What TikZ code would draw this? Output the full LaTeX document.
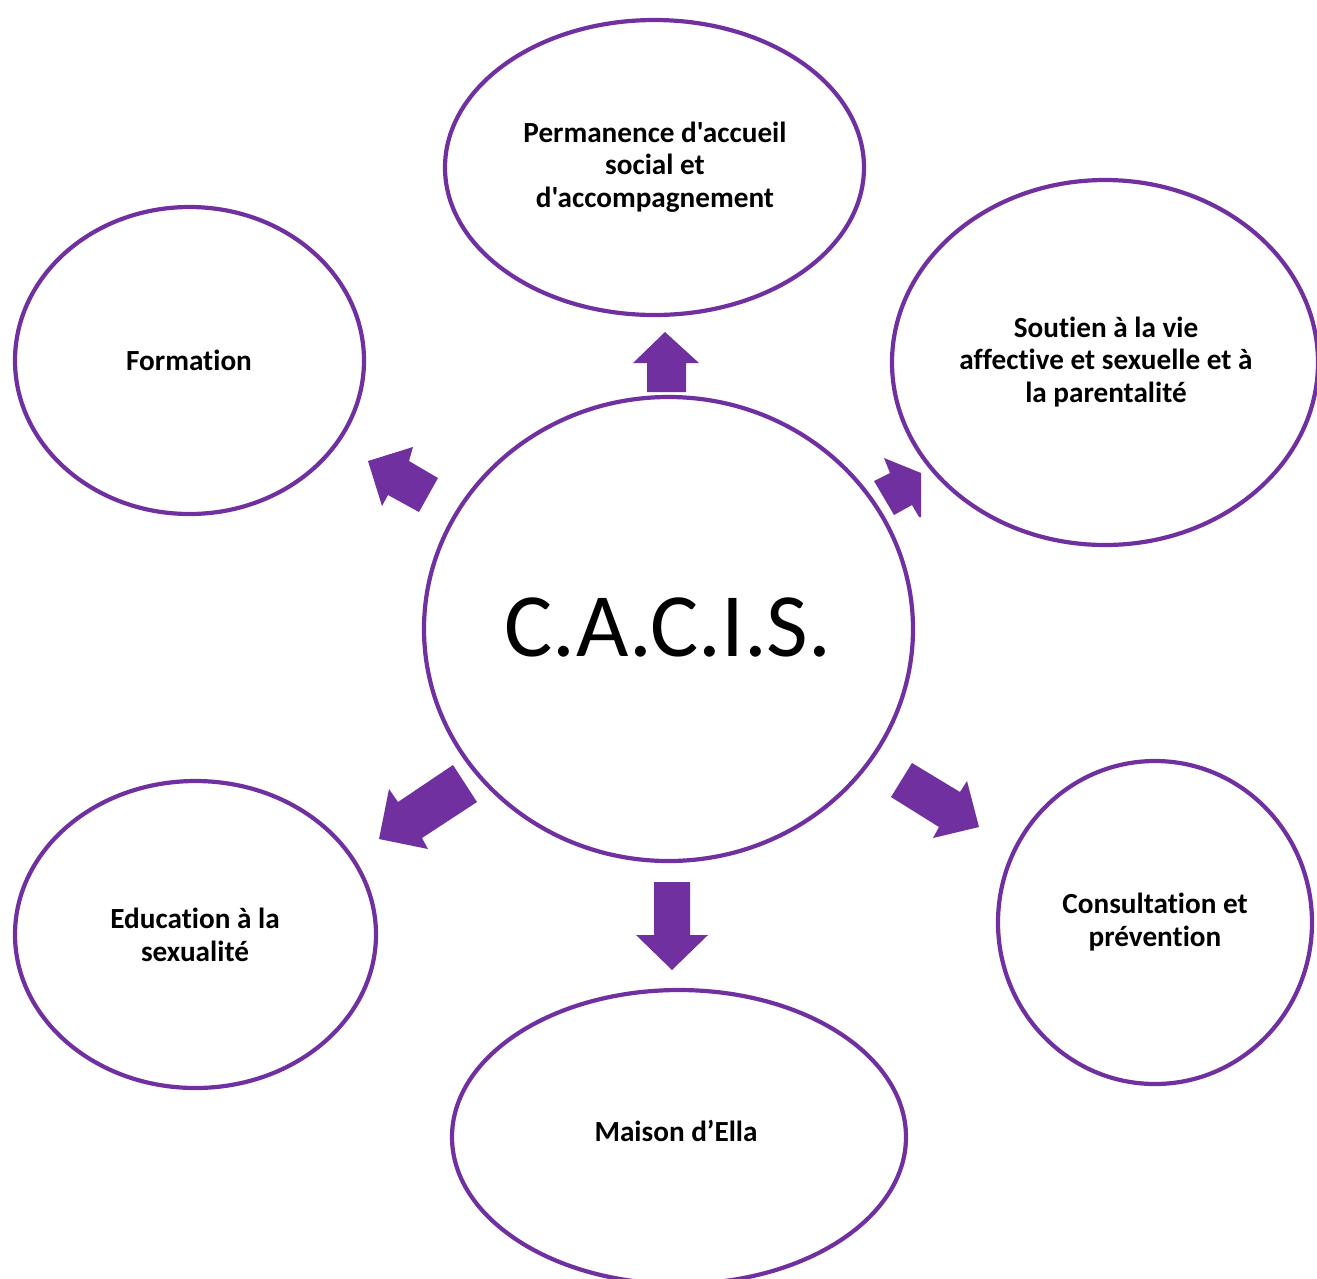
\documentclass[tikz,border=0pt]{standalone}
\usepackage{fontspec}
\setmainfont{Carlito}[Ligatures={TeXOff,NoCommon}]
\begin{document}
\begin{tikzpicture}[x=1pt,y=-1pt,
  ring/.style={draw=cacis,line width=4.2pt,fill=white},
  blockarrow/.style={fill=cacis,draw=none},
  lbl/.style={align=center,font=\fontsize{29.2}{32.5}\selectfont\bfseries,text=black}]
\definecolor{cacis}{HTML}{7030A0}
\useasboundingbox (0,0) rectangle (1317,1278);
\clip (0,0) rectangle (1317,1278);

% block arrows pointing from the centre to each activity
\fill[blockarrow] (647,392) -- (647,363) -- (633,363) -- (665,332) -- (699,363) -- (686,363) -- (686,392) -- cycle;
\fill[blockarrow] (654,882) -- (690,882) -- (690,935) -- (708,935) -- (672,970) -- (636,935) -- (654,935) -- cycle;
\fill[blockarrow] (438,478) -- (409,461) -- (413,447) -- (368,461) -- (382,506) -- (388,495) -- (419,512) -- cycle;
\fill[blockarrow] (874,481) -- (890,473) -- (884,458) -- (921,473) -- (921,517) -- (919,517) -- (912,505) -- (894,515) -- cycle;
\fill[blockarrow] (453,765) -- (398,802) -- (389,789) -- (379,839) -- (428,849) -- (422,838) -- (477,802) -- cycle;
\fill[blockarrow] (912,763) -- (960,792) -- (967,781) -- (979,827) -- (933,838) -- (939,827) -- (891,797) -- cycle;

% centre and surrounding activities
\draw[ring] (668.5,629) ellipse [x radius=244.5, y radius=232];
\node[font=\fontsize{90.5}{100}\selectfont,text=black] (centre) at (668,627) {C.A.C.I.S.};

\draw[ring] (654.5,167.5) ellipse [x radius=209.5, y radius=147.5];
\node[lbl] (perm) at (655,167) {Permanence d'accueil\\social et\\d'accompagnement};

\draw[ring] (189.5,360.5) ellipse [x radius=174.5, y radius=153.5];
\node[lbl] (form) at (189,360) {Formation};

\draw[ring] (1105,362.5) ellipse [x radius=213, y radius=182.5];
\node[lbl] (sout) at (1106,362) {Soutien à la vie\\affective et sexuelle et à\\la parentalité};

\draw[ring] (195.5,934.5) ellipse [x radius=180.5, y radius=153.5];
\node[lbl] (educ) at (195,935) {Education à la\\sexualité};

\draw[ring] (679,1137) ellipse [x radius=227, y radius=147];
\node[lbl] (maison) at (676,1131) {Maison d’Ella};

\draw[ring] (1155,922.5) ellipse [x radius=157, y radius=161.5];
\node[lbl] (cons) at (1155,922) {Consultation et\\prévention};
\end{tikzpicture}
\end{document}
